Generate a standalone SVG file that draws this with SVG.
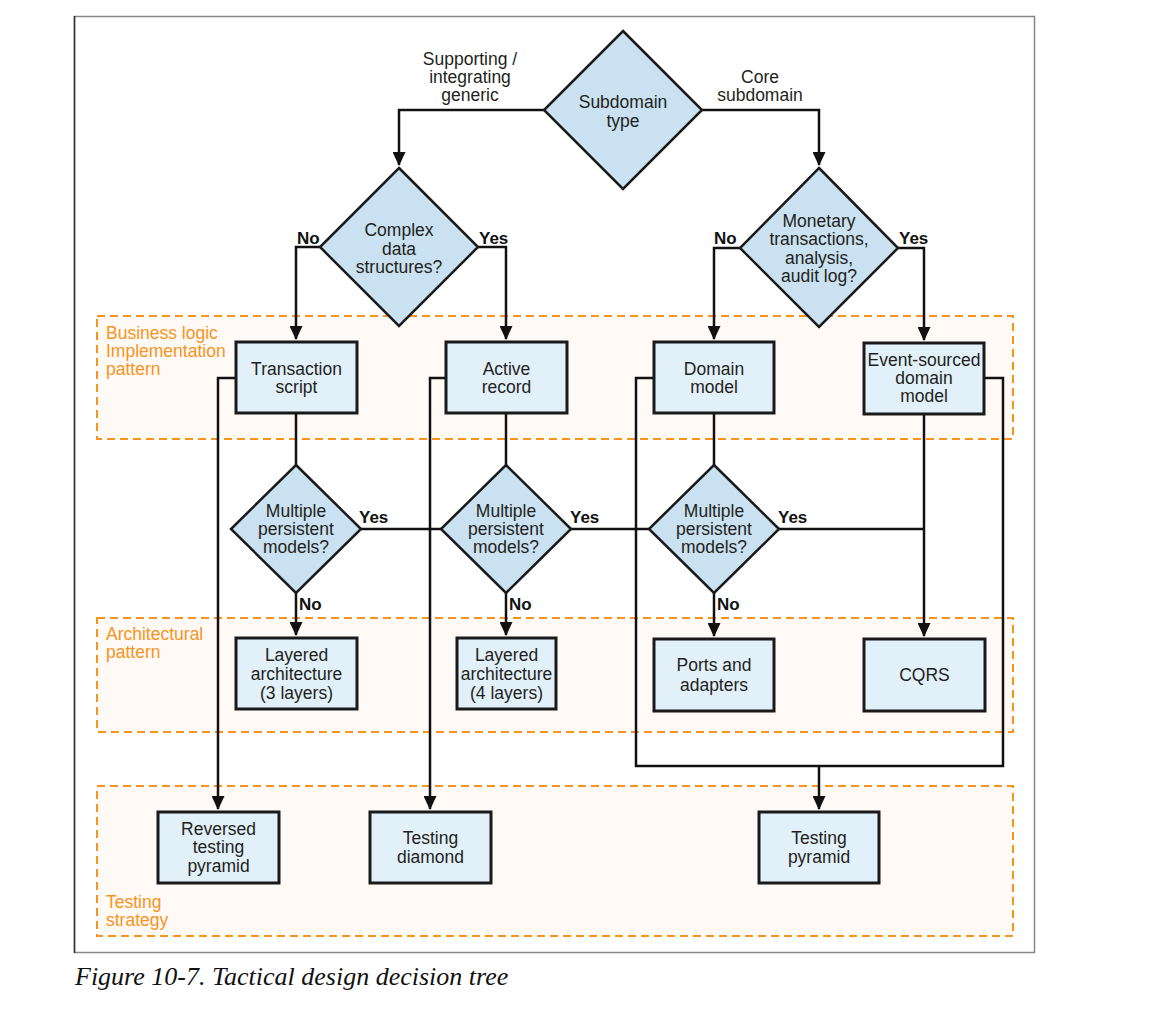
<svg xmlns="http://www.w3.org/2000/svg" width="1150" height="1014" viewBox="0 0 1150 1014">
<style>
.band{fill:#fffaf6;stroke:#f7941d;stroke-width:2;stroke-dasharray:8 5}
.blab{font-family:"Liberation Sans",Arial,sans-serif;font-size:17.5px;fill:#f7941d}
.box{fill:#e2f0fa;stroke:#1a1a1a;stroke-width:3}
.dia{fill:#c9e1f0;stroke:#1a1a1a;stroke-width:2.5;stroke-linejoin:miter}
.t{font-family:"Liberation Sans",Arial,sans-serif;font-size:17.5px;fill:#231f20;text-anchor:middle}
.lb{font-family:"Liberation Sans",Arial,sans-serif;font-size:17px;font-weight:bold;fill:#111}
.el{font-family:"Liberation Sans",Arial,sans-serif;font-size:17.5px;fill:#231f20;text-anchor:middle}
.c{fill:none;stroke:#111;stroke-width:2.5}
.cap{font-family:"Liberation Serif","Times New Roman",serif;font-style:italic;font-size:26px;fill:#111}
</style>
<defs>
<marker id="arr" markerUnits="userSpaceOnUse" viewBox="0 0 14 13" refX="13" refY="6.5" markerWidth="14" markerHeight="13" orient="auto">
<path d="M0,0 L14,6.5 L0,13 z" fill="#111"/>
</marker>
</defs>
<rect x="0" y="0" width="1150" height="1014" fill="#ffffff"/>
<rect x="74.5" y="16.5" width="960" height="936" fill="#ffffff" stroke="#888" stroke-width="1.5"/>
<line x1="74.5" y1="16" x2="74.5" y2="953" stroke="#333" stroke-width="1.5"/>

<g id="bands">
<rect class="band" x="97" y="316" width="916" height="123"/>
<text class="blab" x="106" y="339">Business logic</text>
<text class="blab" x="106" y="357">Implementation</text>
<text class="blab" x="106" y="375">pattern</text>
<rect class="band" x="97" y="618" width="916" height="114"/>
<text class="blab" x="106" y="640">Architectural</text>
<text class="blab" x="106" y="658">pattern</text>
<rect class="band" x="97" y="786" width="916" height="150"/>
<text class="blab" x="106" y="908">Testing</text>
<text class="blab" x="106" y="926">strategy</text>
</g>

<g id="connectors">
<path class="c" d="M544,110 H399 V165" marker-end="url(#arr)"/>
<path class="c" d="M702,110 H819 V165" marker-end="url(#arr)"/>
<path class="c" d="M321,247 H296 V339" marker-end="url(#arr)"/>
<path class="c" d="M478,247 H506 V339" marker-end="url(#arr)"/>
<path class="c" d="M741,248 H714 V339" marker-end="url(#arr)"/>
<path class="c" d="M898,248 H924 V340" marker-end="url(#arr)"/>
<path class="c" d="M296,413 V465"/>
<path class="c" d="M506,413 V465"/>
<path class="c" d="M714,413 V465"/>
<path class="c" d="M361,529 H924"/>
<path class="c" d="M924,414 V636" marker-end="url(#arr)"/>
<path class="c" d="M296,593 V635" marker-end="url(#arr)"/>
<path class="c" d="M506,593 V635" marker-end="url(#arr)"/>
<path class="c" d="M714,593 V636" marker-end="url(#arr)"/>
<path class="c" d="M236,378 H218 V809" marker-end="url(#arr)"/>
<path class="c" d="M446,378 H430 V809" marker-end="url(#arr)"/>
<path class="c" d="M654,378 H636 V766 H1003 V378 H984"/>
<path class="c" d="M819,766 V809" marker-end="url(#arr)"/>
<text class="el" x="470" y="65">Supporting /</text>
<text class="el" x="470" y="83">integrating</text>
<text class="el" x="470" y="101">generic</text>
<text class="el" x="760" y="83">Core</text>
<text class="el" x="760" y="101">subdomain</text>
<text class="lb" x="297" y="244">No</text>
<text class="lb" x="479" y="244">Yes</text>
<text class="lb" x="714" y="244">No</text>
<text class="lb" x="899" y="244">Yes</text>
<text class="lb" x="359" y="523">Yes</text>
<text class="lb" x="570" y="523">Yes</text>
<text class="lb" x="778" y="523">Yes</text>
<text class="lb" x="299" y="610">No</text>
<text class="lb" x="509" y="610">No</text>
<text class="lb" x="717" y="610">No</text>
</g>

<g id="subdomain-type">
<polygon class="dia" points="623,31 702,110 623,189 544,110"/>
<text class="t" x="623" y="108">Subdomain</text>
<text class="t" x="623" y="127">type</text>
</g>
<g id="complex-data">
<polygon class="dia" points="399,168 478,247 399,326 320,247"/>
<text class="t" x="399" y="236">Complex</text>
<text class="t" x="399" y="255">data</text>
<text class="t" x="399" y="273">structures?</text>
</g>
<g id="monetary">
<polygon class="dia" points="819,168 898,248 819,327 740,248"/>
<text class="t" x="819" y="227">Monetary</text>
<text class="t" x="819" y="245">transactions,</text>
<text class="t" x="819" y="264">analysis,</text>
<text class="t" x="819" y="282">audit log?</text>
</g>

<g id="transaction-script">
<rect class="box" x="236" y="342" width="121" height="71"/>
<text class="t" x="296.5" y="375">Transaction</text>
<text class="t" x="296.5" y="393">script</text>
</g>
<g id="active-record">
<rect class="box" x="446" y="342" width="121" height="71"/>
<text class="t" x="506.5" y="375">Active</text>
<text class="t" x="506.5" y="393">record</text>
</g>
<g id="domain-model">
<rect class="box" x="654" y="342" width="120" height="71"/>
<text class="t" x="714" y="375">Domain</text>
<text class="t" x="714" y="393">model</text>
</g>
<g id="event-sourced">
<rect class="box" x="864" y="343" width="120" height="71"/>
<text class="t" x="924" y="366">Event-sourced</text>
<text class="t" x="924" y="384">domain</text>
<text class="t" x="924" y="402">model</text>
</g>

<g id="mp1">
<polygon class="dia" points="296,465 361,529 296,593 231,529"/>
<text class="t" x="296" y="517">Multiple</text>
<text class="t" x="296" y="535">persistent</text>
<text class="t" x="296" y="553">models?</text>
</g>
<g id="mp2">
<polygon class="dia" points="506,465 571,529 506,593 441,529"/>
<text class="t" x="506" y="517">Multiple</text>
<text class="t" x="506" y="535">persistent</text>
<text class="t" x="506" y="553">models?</text>
</g>
<g id="mp3">
<polygon class="dia" points="714,465 779,529 714,593 649,529"/>
<text class="t" x="714" y="517">Multiple</text>
<text class="t" x="714" y="535">persistent</text>
<text class="t" x="714" y="553">models?</text>
</g>

<g id="layered-3">
<rect class="box" x="236" y="638" width="121" height="71"/>
<text class="t" x="296.5" y="661">Layered</text>
<text class="t" x="296.5" y="680">architecture</text>
<text class="t" x="296.5" y="699">(3 layers)</text>
</g>
<g id="layered-4">
<rect class="box" x="457" y="638" width="99" height="71"/>
<text class="t" x="506.5" y="661">Layered</text>
<text class="t" x="506.5" y="680">architecture</text>
<text class="t" x="506.5" y="699">(4 layers)</text>
</g>
<g id="ports-adapters">
<rect class="box" x="654" y="639" width="120" height="72"/>
<text class="t" x="714" y="671">Ports and</text>
<text class="t" x="714" y="691">adapters</text>
</g>
<g id="cqrs">
<rect class="box" x="864" y="639" width="121" height="72"/>
<text class="t" x="924.5" y="681">CQRS</text>
</g>

<g id="reversed-pyramid">
<rect class="box" x="158" y="812" width="121" height="71"/>
<text class="t" x="218.5" y="835">Reversed</text>
<text class="t" x="218.5" y="853">testing</text>
<text class="t" x="218.5" y="872">pyramid</text>
</g>
<g id="testing-diamond">
<rect class="box" x="370" y="812" width="121" height="71"/>
<text class="t" x="430.5" y="844">Testing</text>
<text class="t" x="430.5" y="863">diamond</text>
</g>
<g id="testing-pyramid">
<rect class="box" x="759" y="812" width="120" height="71"/>
<text class="t" x="819" y="844">Testing</text>
<text class="t" x="819" y="863">pyramid</text>
</g>

<text class="cap" x="75" y="985">Figure 10-7. Tactical design decision tree</text>
</svg>
